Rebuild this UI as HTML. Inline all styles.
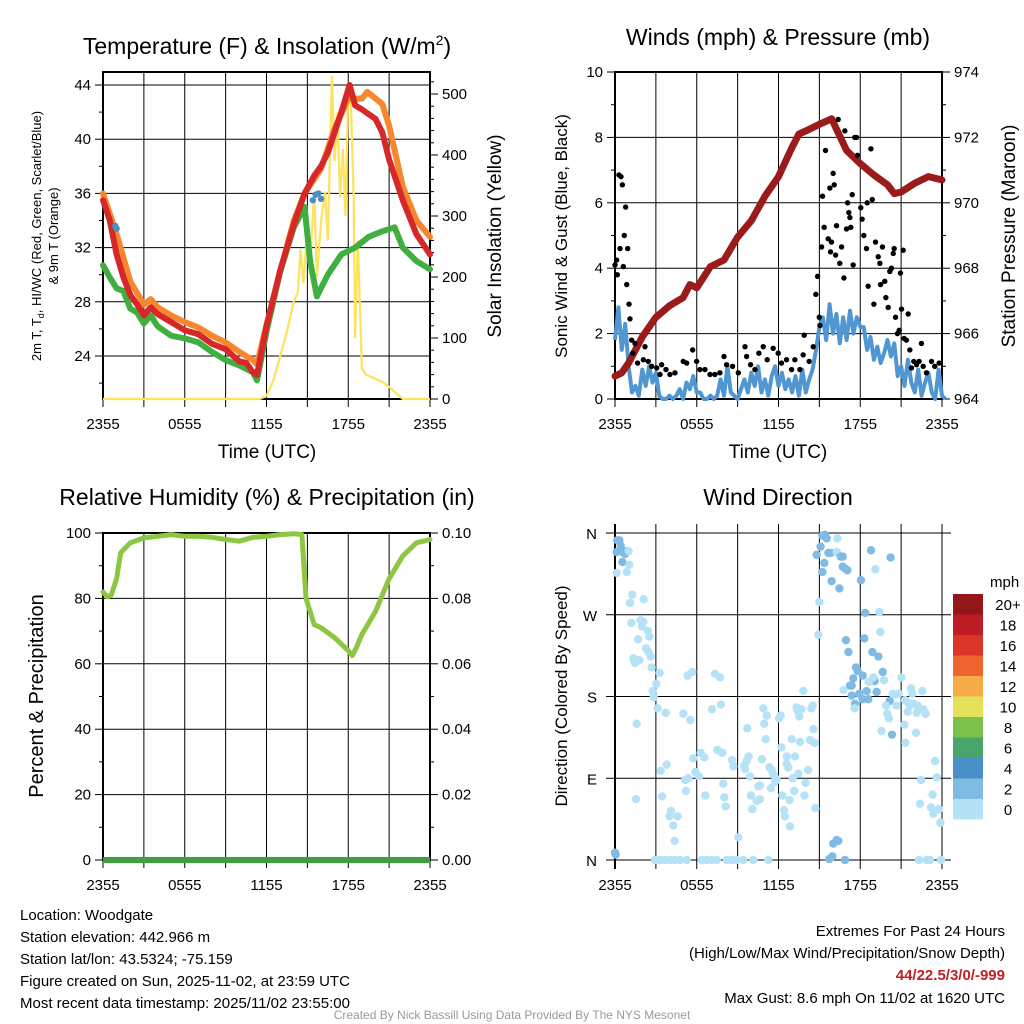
<!DOCTYPE html>
<html><head><meta charset="utf-8">
<style>
html,body{margin:0;padding:0;background:#fff;}
svg{display:block;font-family:"Liberation Sans",Arial,sans-serif;}
</style></head>
<body>
<svg id="fig" width="1024" height="1024" viewBox="0 0 1024 1024" xmlns="http://www.w3.org/2000/svg">
<rect width="1024" height="1024" fill="#fff"/>
<text x="267" y="54" font-size="23" text-anchor="middle">Temperature (F) &amp; Insolation (W/m<tspan dy="-9" font-size="14">2</tspan><tspan dy="9">)</tspan></text>
<text x="778" y="45" font-size="23" text-anchor="middle">Winds (mph) &amp; Pressure (mb)</text>
<text x="267" y="505" font-size="23" text-anchor="middle">Relative Humidity (%) &amp; Precipitation (in)</text>
<text x="778" y="505" font-size="23" text-anchor="middle">Wind Direction</text>
<g id="p1"></g>
<g id="p2"></g>
<g id="p3"></g>
<g id="p4"></g>
<g font-size="15">
<text x="20" y="920">Location: Woodgate</text>
<text x="20" y="942">Station elevation: 442.966 m</text>
<text x="20" y="964">Station lat/lon: 43.5324; -75.159</text>
<text x="20" y="986">Figure created on Sun, 2025-11-02, at 23:59 UTC</text>
<text x="20" y="1008">Most recent data timestamp: 2025/11/02 23:55:00</text>
</g>
<g font-size="15" text-anchor="end">
<text x="1005" y="936">Extremes For Past 24 Hours</text>
<text x="1005" y="958">(High/Low/Max Wind/Precipitation/Snow Depth)</text>
<text x="1005" y="980" fill="#c0202a" font-weight="bold">44/22.5/3/0/-999</text>
<text x="1005" y="1003">Max Gust: 8.6 mph On 11/02 at 1620 UTC</text>
</g>
<text x="512" y="1019" font-size="12" fill="#999" text-anchor="middle">Created By Nick Bassill Using Data Provided By The NYS Mesonet</text>
</svg>
<script>
// ---------- data ----------
const xTickLabels = ["2355","0555","1155","1755","2355"];
// Temperature panel (hours since 2355)
const tempT = [0,0.5,1,1.5,2,2.5,3,3.5,4,5,6,7,8,9,10,10.5,11,11.3,12,13,14,14.8,15.5,16,16.5,17,17.5,18.1,18.5,19,20,20.5,21,22,23,24];
const tempRed = [35.5,34,31.5,29.8,28.5,27.8,27.0,27.6,27.1,26.5,25.9,25.6,24.9,24.5,23.6,23.5,22.8,22.6,26.2,30.3,33.7,36,37.3,38,39,40.5,42,44,42.5,42.2,41.5,40.5,38.5,35.5,33,31.5];
const orangeT = [0,1,2,3,3.5,4,5,6,7,8,9,10,11,11.3,12,13,14,14.8,16,17,18,19,19.4,20.5,21,22,23,24];
const tempOrange = [36,33,29.5,27.8,28.2,27.6,27,26.5,26.1,25.5,25,24.3,23.7,23.4,26.3,30.2,34,36,37.8,40.8,43,43,43.5,42.6,41,36.5,34,32.8];
const greenT = [0,0.5,1,1.5,2,2.5,3,3.5,4,5,6,7,8,9,10,11,11.3,12,13,14,14.8,15.2,15.7,16.5,17.5,18.5,19.5,20.5,21.4,22,23,24];
const tempGreen = [30.7,29.8,29,28.8,27.5,27.2,26.4,27,26.2,25.5,25.3,25,24.3,23.7,23.3,22.8,22.2,25.8,30.2,33.5,35,31,28.4,30,31.5,32,32.8,33.2,33.5,32,31,30.4];
const hiwcT = [0.9,1.0,15.4,15.6,15.8,16.0];
const hiwcV = [33.6,33.4,35.5,35.9,36.0,35.6];
const solarT = [0,11.5,12,12.5,13,13.5,14,14.3,14.5,14.7,15,15.2,15.5,15.7,16,16.3,16.5,16.8,17,17.2,17.4,17.6,17.8,18,18.2,18.4,18.5,18.7,19,19.3,19.5,20,20.5,21,21.5,22,24];
const solarV = [0,0,5,30,70,110,160,175,245,190,280,220,340,200,290,340,260,530,390,470,330,410,300,510,480,330,100,260,50,40,38,33,28,20,10,0,0];
// Winds panel
const windV = [1.8,2.8,1.5,2.3,1.0, 0.2,0.4,0.1,0.9, 0.4,1.0,0.5,0.8, 0.1,0.0,0.0,0.1, 0.0,0.1,0.3,0.0, 0.5,0.3,0.7,0.2, 0.2,0.0,0.0,0.1, 0.0,0.1,0.6,0.1, 1.0,0.2,0.1,0.0, 0.3,0.6,0.2,0.8, 0.4,1.0,0.2,0.6, 0.1,0.7,1.0,0.4, 0.8,0.3,0.6,0.2, 0.7,0.1,0.9,0.2, 0.6,0.9,1.5,2.2, 2.5,1.8,2.9,2.0, 2.6,1.7,2.5,1.8, 2.7,2.0,2.5,2.2, 2.2,1.5,1.9,1.2, 1.6,1.1,1.4,1.8, 1.3,1.7,0.7,1.0, 0.4,1.2,0.5,0.2, 0.9,0.1,0.5,0.8, 0.2,0.0,0.9,0.1, 0.0];
const gustT = [0,0.12,0.17,0.29,0.44,0.54,0.78,0.68,0.37,0.61,0.93,0.86,1.03,1.10,1.22,1.47,1.30,1.66,2.08,2.20,2.44,2.69,3.06,3.42,3.30,3.74,4.03,4.40,5.01,5.26,5.70,5.99,6.23,6.60,6.97,7.33,7.70,8.00,8.19,8.63,9.05,9.54,9.66,9.95,10.27,10.56,10.88,11.17,11.61,11.98,12.22,12.59,12.96,13.20,13.57,13.81,13.89,14.25,14.55,14.74,14.87,14.99,15.04,15.16,15.23,15.45,15.35,15.65,15.77,15.89,15.82,16.01,16.09,16.19,16.26,16.38,16.50,16.63,16.80,16.87,16.99,17.07,17.16,17.24,17.31,17.41,17.48,17.60,17.73,17.80,18.04,18.14,18.26,18.46,18.51,18.58,18.78,18.88,19.00,19.12,19.32,19.44,19.49,19.63,19.80,19.88,20.05,20.17,20.29,20.49,20.42,20.59,20.73,20.86,20.95,21.03,21.15,21.22,21.39,21.52,21.64,21.76,21.93,22.13,22.32,22.49,22.62,22.86,23.23,23.47,23.79];
const gustV = [4.1,4.25,3.8,6.85,6.8,6.55,5.87,5.0,4.6,4.05,4.6,3.5,2.9,2.45,1.8,1.7,1.4,1.1,1.2,1.6,1.15,1.0,0.95,1.05,0.75,0.9,0.75,0.8,1.15,1.1,1.5,1.15,0.9,0.9,0.75,0.75,0.8,1.3,1.05,1.0,0.8,1.6,1.3,1.05,0.9,1.4,1.6,1.2,1.55,1.4,1.1,1.2,0.9,1.2,0.9,1.35,1.95,1.15,1.6,3.2,3.75,2.5,2.25,4.65,6.2,7.6,5.25,4.9,6.45,4.8,4.5,6.9,6.55,4.4,5.3,8.55,4.15,4.65,3.7,8.2,5.2,6.0,5.7,5.55,5.25,6.25,4.1,8.0,8.0,7.45,5.85,5.5,5.0,4.6,6.0,3.45,7.65,6.1,2.9,4.8,4.35,4.15,3.5,4.65,3.6,3.1,2.8,3.9,4.0,4.6,4.45,2.5,2.0,2.1,3.85,2.75,4.55,1.85,1.8,2.6,1.5,0.95,1.15,1.05,1.15,1.7,1.0,0.8,1.15,1.0,1.1];
const presT = [0,0.5,1,2,3,4,5,5.5,6,7,8,9,10,11,12,13,13.5,14,15,15.9,17,18,19,20,20.5,21,22,23,24];
const presV = [964.7,964.8,965.1,965.9,966.5,966.85,967.1,967.5,967.4,968.05,968.25,968.95,969.45,970.2,970.8,971.7,972.1,972.2,972.4,972.57,971.6,971.2,970.85,970.55,970.28,970.33,970.6,970.8,970.7];
// Humidity panel
const rhT = [0,0.3,0.6,1,1.3,2,3,4,5,6,7,8,9,10,11,12,13,14,14.6,14.9,15.5,16,17,17.5,18,18.3,18.6,19,20,21,22,23,24];
const rhV = [82,80.5,81,86,94,97,98.5,99,99.5,99,99,98.7,98,97.5,98.7,99,99.5,99.8,99.5,80,72,71,68,66,64,62.5,65,69,76,86,93,97,98];
const precipT = [0,24];
const precipV = [0,0];
// Direction panel
const dirT = [0.17,0.32,0.42,0.12,0.56,0.73,0.86,0.54,1.0,1.05,0.12,0.86,1.27,1.10,2.10,1.20,1.88,2.08,1.98,2.42,2.52,1.69,2.28,2.45,2.62,1.35,1.79,1.47,2.69,3.28,3.03,2.76,2.84,3.13,3.72,1.59,5.02,5.53,5.33,5.68,7.34,7.71,7.12,7.78,1.54,3.35,3.79,3.45,4.11,3.99,4.60,4.28,4.38,0,0.05,
5.75,6.29,6.56,5.90,6.17,5.38,5.14,5.21,6.63,7.51,7.88,7.95,8.02,8.12,8.59,8.69,9.05,9.49,9.66,9.81,9.54,9.91,9.71,10.79,10.89,11.13,10.96,11.06,10.52,10.64,10.40,10.64,9.98,10.08,11.33,11.50,11.62,11.74,11.45,11.87,12.04,12.16,12.21,12.28,12.40,12.48,12.84,12.60,12.72,12.60,13.21,12.80,12.97,13.04,13.16,13.46,13.58,13.90,13.99,14.17,14.31,14.65,14.70,14.56,13.38,13.53,13.68,13.82,14.41,14.51,13.33,
2.94,3.30,3.67,4.04,4.40,4.77,5.26,6.36,6.73,7.09,7.46,8.20,8.56,8.93,9.42,10.15,11.25,
14.92,15.0,14.80,15.09,15.22,15.41,15.54,15.36,15.22,15.66,15.83,16.27,16.32,16.56,16.71,16.71,16.88,17.05,15.90,16.47,18.05,18.79,19.11,20.23,18.37,19.40,19.47,18.30,16.95,17.13,18.89,19.33,17.69,17.81,18.18,17.49,19.65,19.06,18.62,18.96,19.74,17.25,17.37,16.78,17.37,18.47,17.93,18.18,18.59,19.20,17.61,17.57,20.16,19.89,19.99,20.11,19.55,20.33,20.38,20.57,20.82,20.67,21.02,21.72,21.82,22.56,21.28,21.53,21.65,21.90,22.21,21.48,22.14,22.63,22.80,21.24,22.09,21.31,23.49,23.61,22.46,23.31,22.39,23.19,23.36,23.78,23.88,16.02,16.27,16.39,15.95,15.73,16.88,22.31,22.87,23.12,23.93];
const dirV = [352,352,346,339,339,337,340,328,340,325,316,317,292,283,287,261,264,262,257,252,246,243,233,229,224,222,220,217,212,206,194,186,179,167,162,150,161,154,203,207,205,201,166,171,67,98,105,70,54,48,48,38,21,8,6,
112,118,113,97,92,90,88,76,71,121,118,84,69,59,110,103,25,104,109,114,100,92,145,111,167,159,150,133,81,82,65,67,71,56,102,99,94,86,79,89,156,159,124,71,55,48,37,106,102,114,114,66,133,90,76,95,130,71,85,99,132,129,57,144,165,158,166,186,167,170,168,
0,0,0,0,0,0,0,0,0,0,0,0,0,0,0,0,0,
248,284,336,345,357,358,354,327,317,338,338,339,354,334,334,323,321,319,307,299,308,341,320,333,272,273,251,244,242,229,229,224,212,208,203,200,207,197,196,201,198,192,192,187,181,186,183,177,177,185,172,167,175,170,161,156,142,138,183,182,183,170,201,189,183,186,176,173,170,172,170,163,162,166,161,149,140,129,109,91,88,72,62,58,51,56,41,18,22,21,4,1,0,0,0,0,0];
const dirSpd = [3,3,3,3,3,3,3,3,1,1,1,1,1,1,1,1,1,1,1,1,1,1,1,1,1,1,1,1,1,1,1,1,1,1,1,1,1,1,1,1,1,1,1,1,1,1,1,1,1,1,1,1,1,3,3,
1,1,1,1,1,1,1,1,1,1,1,1,1,1,1,1,1,1,1,1,1,1,1,1,1,1,1,1,1,1,1,1,1,1,1,1,1,1,1,1,1,1,1,1,1,1,1,1,1,1,1,1,1,1,1,1,1,1,1,1,1,1,1,1,1,1,1,1,1,1,1,
1,1,1,1,1,1,1,1,1,1,1,1,1,1,1,1,1,
1,1,3,3,3,3,3,3,3,3,3,1,1,3,3,3,3,3,3,3,3,3,1,3,3,1,1,3,3,3,3,3,3,3,3,3,3,3,1,1,1,3,3,1,3,3,3,3,3,3,3,1,3,1,1,1,1,3,1,1,1,1,1,1,1,1,1,1,1,1,1,1,1,1,1,1,1,1,1,1,1,1,1,1,1,1,1,3,3,3,3,3,3,1,1,1,1];
const dirTickLabels = ["N","E","S","W","N"];
const legendLabels = ["0","2","4","6","8","10","12","14","16","18","20+"];
const legendColors = ["#b5e2f7","#80bbe3","#4a90c8","#4aa56c","#7bc14a","#e6e15a","#f6aa48","#ef6530","#db3429","#bd1c24","#931619"];

// ---------- helpers ----------
const NS="http://www.w3.org/2000/svg";
function mk(parent,tag,attrs,text){const e=document.createElementNS(NS,tag);for(const k in attrs)e.setAttribute(k,attrs[k]);if(text!==undefined)e.textContent=text;parent.appendChild(e);return e;}
function lin(d0,d1,r0,r1){return v=>r0+(v-d0)/(d1-d0)*(r1-r0);}
function pathD(xs,ys,fx,fy){return xs.map((t,i)=>(i?"L":"M")+fx(t).toFixed(1)+","+fy(ys[i]).toFixed(1)).join("");}

function frame(g,L,R,T,B,fx,opts){
  for(let h=0;h<=24;h+=3){const x=fx(h);
    const ln=mk(g,"line",{x1:x,x2:x,y1:T,y2:B,stroke:"#000","stroke-width":1});
    
    
    mk(g,"line",{x1:x,x2:x,y1:B,y2:B+8,stroke:"#000","stroke-width":1});
  }
  xTickLabels.forEach((lab,i)=>{const t=mk(g,"text",{x:fx(i*6),y:B+30,"font-size":15,"text-anchor":"middle"},lab);
    
    });
  const b=mk(g,"rect",{x:L,y:T,width:R-L,height:B-T,fill:"none",stroke:"#000","stroke-width":2});
  
  
}
function yAxis(g,side,x,T,B,fy,vmin,vmax,major,minor,fmt,hgrid,L,R){
  for(let v=vmin;v<=vmax+1e-9;v+=minor){
    const y=fy(v); if(y<T-0.5||y>B+0.5)continue;
    const isMaj=Math.abs(Math.round(v/major)*major-v)<1e-6;
    const len=isMaj?8:4;
    mk(g,"line",{x1:x,x2:side==="L"?x-len:x+len,y1:y,y2:y,stroke:"#000","stroke-width":1});
    if(isMaj){
      if(hgrid) mk(g,"line",{x1:L,x2:R,y1:y,y2:y,stroke:"#000","stroke-width":1});
      const t=mk(g,"text",{x:side==="L"?x-12:x+12,y:y+5,"font-size":15,"text-anchor":side==="L"?"end":"start"},fmt(v));
      
      
    }
  }
}

// ---------- Panel 1: temperature ----------
(function(){
  const g=document.getElementById("p1");
  const L=103,R=430,T=72,B=399;
  const fx=lin(0,24,L,R), fy=lin(24,44,356,85), fs=lin(0,500,399,94);
  frame(g,L,R,T,B,fx,{});
  yAxis(g,"L",L,T,B,fy,22,44,4,2,v=>String(v),true,L,R);
  yAxis(g,"R",R,T,B,fs,0,520,100,20,v=>String(v),false);
  const s=mk(g,"path",{d:pathD(solarT,solarV,fx,fs),fill:"none",stroke:"#fde25c","stroke-width":2.2});
  
  const o=mk(g,"path",{d:pathD(orangeT,tempOrange,fx,fy),fill:"none",stroke:"#f7862f","stroke-width":6,"stroke-linejoin":"round","stroke-linecap":"round"});
  
  const gr=mk(g,"path",{d:pathD(greenT,tempGreen,fx,fy),fill:"none",stroke:"#3fb03f","stroke-width":6,"stroke-linejoin":"round","stroke-linecap":"round"});
  
  const r=mk(g,"path",{d:pathD(tempT,tempRed,fx,fy),fill:"none",stroke:"#d62828","stroke-width":6,"stroke-linejoin":"round","stroke-linecap":"round"});
  
  hiwcT.forEach((t,i)=>{const c=mk(g,"circle",{cx:fx(t),cy:fy(hiwcV[i]),r:3.2,fill:"#4a90c8"});
    });
  const xl=mk(g,"text",{x:267,y:458,"font-size":19,"text-anchor":"middle"},"Time (UTC)");
  
  const yl=mk(g,"text",{transform:"translate(41,236) rotate(-90)","font-size":13,"text-anchor":"middle"});
  
  yl.innerHTML='2m T, T<tspan font-size="9" dy="3">d</tspan><tspan dy="-3">, HI/WC (Red, Green, Scarlet/Blue)</tspan>';
  const yl2=mk(g,"text",{transform:"translate(58,236) rotate(-90)","font-size":13,"text-anchor":"middle"},"& 9m T (Orange)");
  
  const yr=mk(g,"text",{transform:"translate(501,236) rotate(-90)","font-size":19,"text-anchor":"middle"},"Solar Insolation (Yellow)");
  
})();

// ---------- Panel 2: winds ----------
(function(){
  const g=document.getElementById("p2");
  const L=615,R=942,T=72,B=399;
  const fx=lin(0,24,L,R), fy=lin(0,10,B,T), fp=lin(964,974,B,T);
  frame(g,L,R,T,B,fx,{});
  yAxis(g,"L",L,T,B,fy,0,10,2,1,v=>String(v),true,L,R);
  yAxis(g,"R",R,T,B,fp,964,974,2,1,v=>String(v),false);
  const wt=windV.map((v,i)=>i*0.25);
  const w=mk(g,"path",{d:pathD(wt,windV,fx,fy),fill:"none",stroke:"#4f96d2","stroke-width":4,"stroke-linejoin":"round"});
  
  const p=mk(g,"path",{d:pathD(presT,presV,fx,fp),fill:"none",stroke:"#9b1b1b","stroke-width":7,"stroke-linejoin":"round","stroke-linecap":"round"});
  
  gustT.forEach((t,i)=>{const c=mk(g,"circle",{cx:fx(t),cy:fy(gustV[i]),r:2.7,fill:"#000"});
    });
  const xl=mk(g,"text",{x:778,y:458,"font-size":19,"text-anchor":"middle"},"Time (UTC)");
  
  const yl=mk(g,"text",{transform:"translate(567,236) rotate(-90)","font-size":17,"text-anchor":"middle"},"Sonic Wind & Gust (Blue, Black)");
  
  const yr=mk(g,"text",{transform:"translate(1015,236) rotate(-90)","font-size":19,"text-anchor":"middle"},"Station Pressure (Maroon)");
  
})();

// ---------- Panel 3: humidity ----------
(function(){
  const g=document.getElementById("p3");
  const L=103,R=430,T=533,B=860;
  const fx=lin(0,24,L,R), fy=lin(0,100,B,T), fpr=lin(0,0.1,B,T);
  frame(g,L,R,T,B,fx,{});
  yAxis(g,"L",L,T,B,fy,0,100,20,10,v=>String(v),true,L,R);
  yAxis(g,"R",R,T,B,fpr,0,0.1,0.02,0.01,v=>v.toFixed(2),false);
  const rh=mk(g,"path",{d:pathD(rhT,rhV,fx,fy),fill:"none",stroke:"#8dc641","stroke-width":5,"stroke-linejoin":"round","stroke-linecap":"round"});
  
  const pr=mk(g,"path",{d:pathD(precipT,precipV,fx,fpr),fill:"none",stroke:"#3f9f3f","stroke-width":6});
  
  const yl=mk(g,"text",{transform:"translate(43,696) rotate(-90)","font-size":20,"text-anchor":"middle"},"Percent & Precipitation");
  
})();

// ---------- Panel 4: direction ----------
(function(){
  const g=document.getElementById("p4");
  const L=615,R=942,T=533,B=860;
  const fx=lin(0,24,L,R), fy=lin(0,360,B,T);
  for(let h=0;h<=24;h+=3){const x=fx(h);
    const ln=mk(g,"line",{x1:x,x2:x,y1:T-9,y2:B+9,stroke:"#000","stroke-width":1});
    }
  dirTickLabels.forEach((lab,i)=>{const y=fy(i*90);
    mk(g,"line",{x1:L-9,x2:R+9,y1:y,y2:y,stroke:"#000","stroke-width":1});
    const t=mk(g,"text",{x:597,y:y+6,"font-size":15,"text-anchor":"end"},lab);
    });
  mk(g,"line",{x1:L,x2:L,y1:T-9,y2:B+9,stroke:"#000","stroke-width":2});
  xTickLabels.forEach((lab,i)=>{const t=mk(g,"text",{x:fx(i*6),y:B+30,"font-size":15,"text-anchor":"middle"},lab);
    });
  function col(s){return legendColors[Math.min(10,Math.floor(s/2))];}
  dirT.forEach((t,i)=>{const c=mk(g,"circle",{cx:fx(t),cy:fy(dirV[i]),r:4.2,fill:col(dirSpd[i])});
    });
  const yl=mk(g,"text",{transform:"translate(567,696) rotate(-90)","font-size":17,"text-anchor":"middle"},"Direction (Colored By Speed)");
  
  const lg=mk(g,"g",{});
  
  const mt=mk(lg,"text",{x:990,y:587,"font-size":15},"mph");
  
  legendLabels.forEach((lab,i)=>{const y0=799-i*20.5;
    const r=mk(lg,"rect",{x:953,y:y0,width:30,height:20.5,fill:legendColors[i]});
    
    const t=mk(lg,"text",{x:1008,y:y0+16,"font-size":15,"text-anchor":"middle"},lab);
    });
})();
</script>
</body></html>
